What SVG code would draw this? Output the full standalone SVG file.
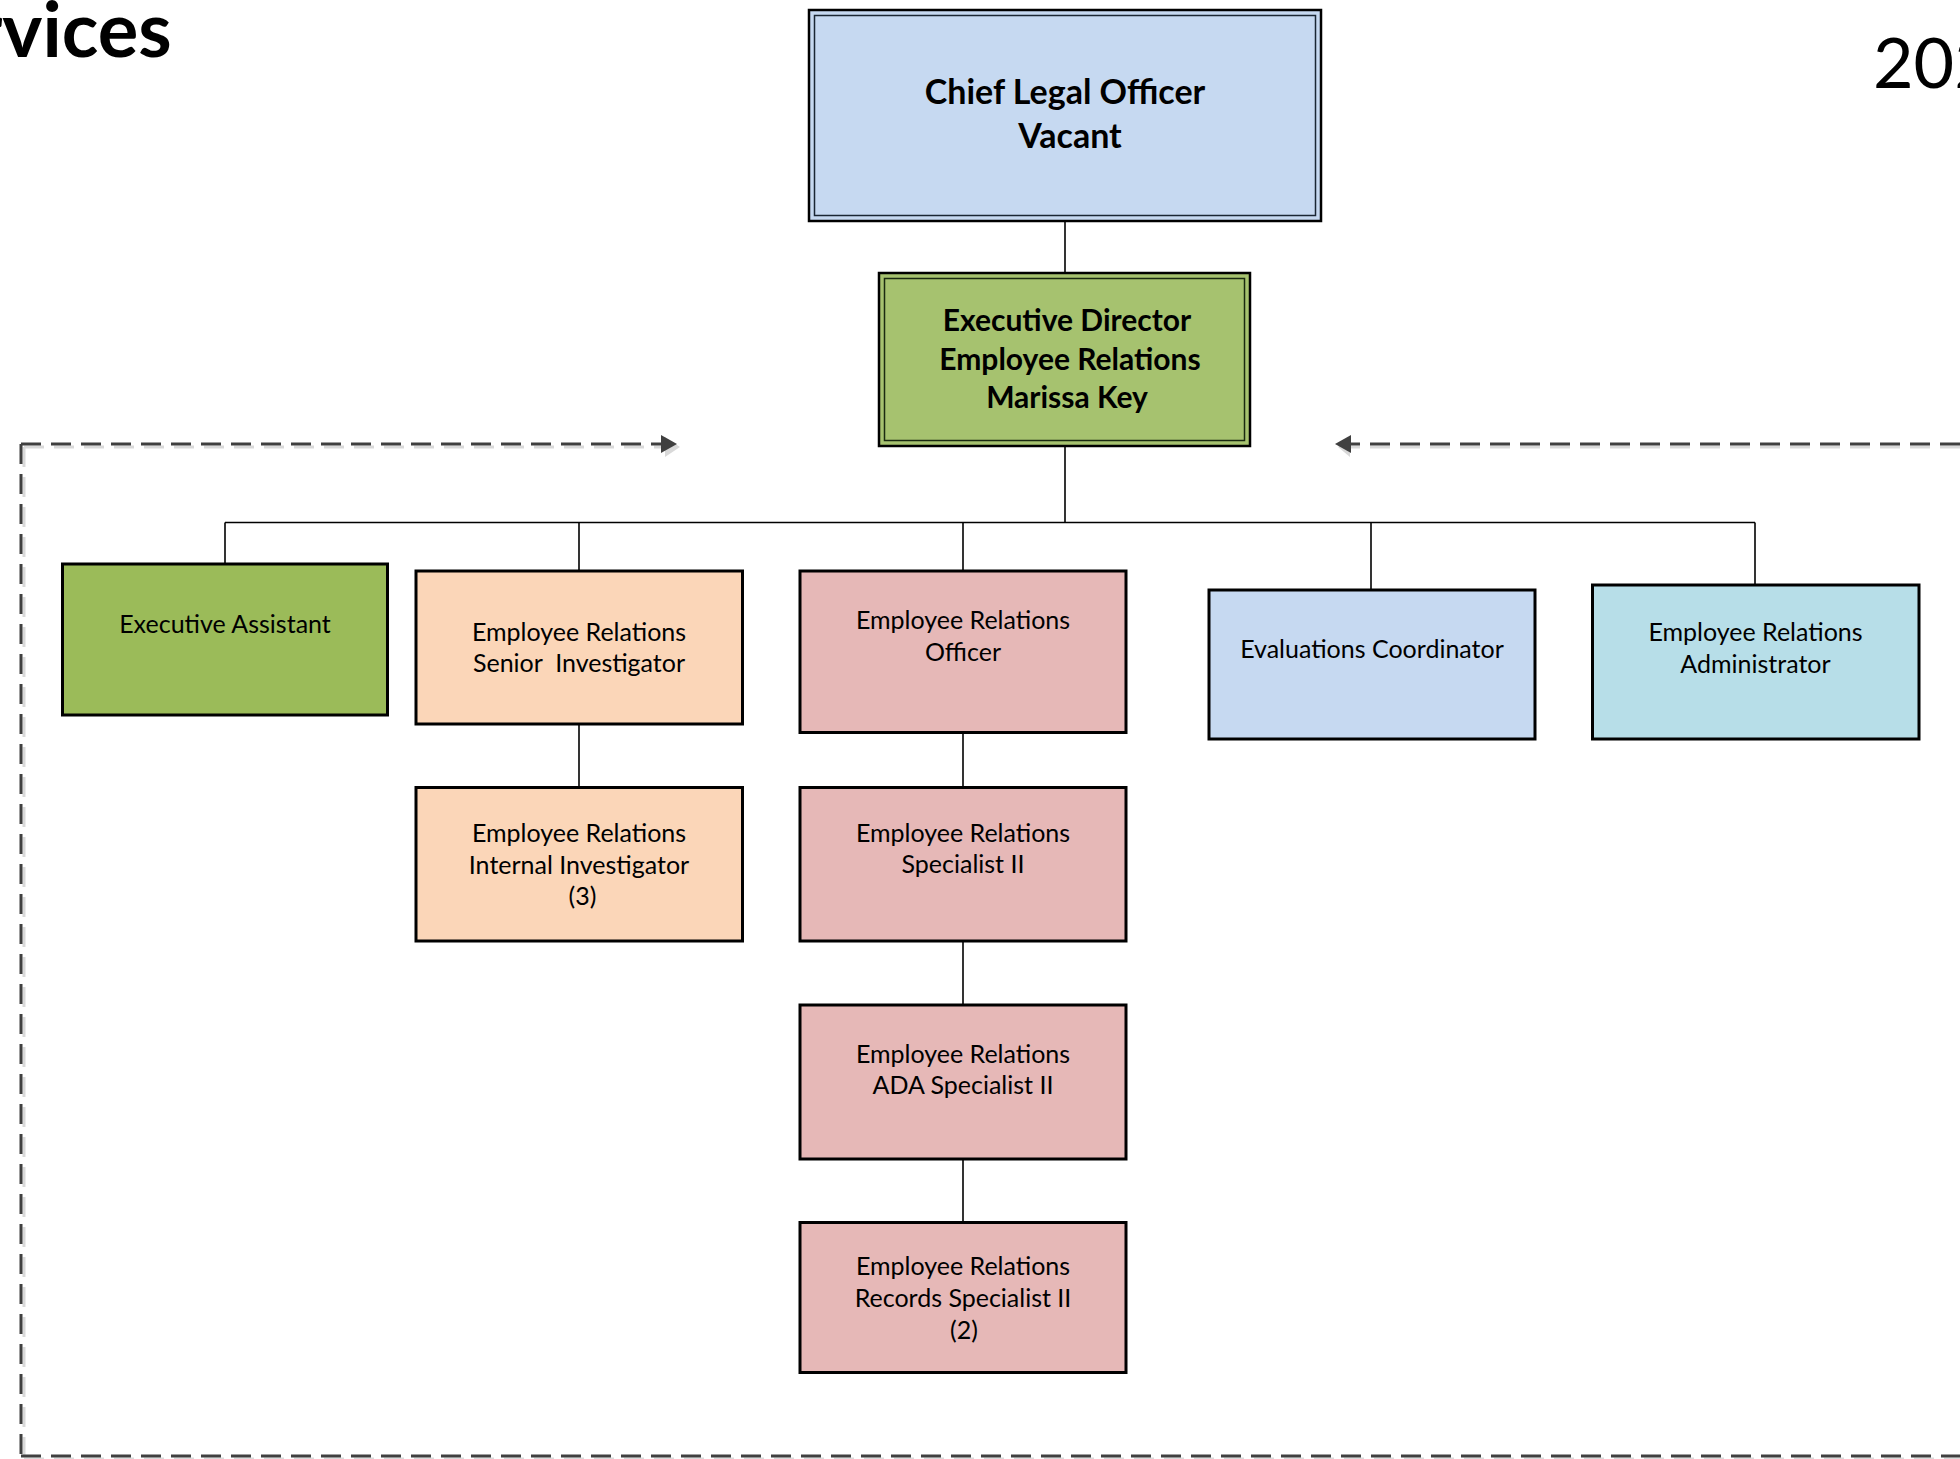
<svg xmlns="http://www.w3.org/2000/svg" width="1960" height="1459" viewBox="0 0 1960 1459">
<style>
  .t { font-family: Lato, "Liberation Sans", sans-serif; font-size: 25px; fill: #000; text-anchor: middle; }
  .tb { font-family: Lato, "Liberation Sans", sans-serif; font-weight: bold; fill: #000; text-anchor: middle; }
  .box { stroke: #000; stroke-width: 3; }
  .conn { stroke: #000; stroke-width: 1.6; fill: none; }
  .dash { stroke: #404040; stroke-width: 3; fill: none; stroke-dasharray: 20 10; }
  .dshadow { stroke: #d9d9d9; stroke-width: 3; fill: none; stroke-dasharray: 20 10; }
  .pink { fill: #E6B8B7; }
  .peach { fill: #FBD6B8; }
  .blue { fill: #C6D9F1; }
  .teal { fill: #B7DEE8; }
  .green { fill: #9BBB59; }
</style>
<rect width="1960" height="1459" fill="#fff"/>

<!-- Title fragments -->
<text x="-26" y="57" font-family="Lato, 'Liberation Sans', sans-serif" font-weight="bold" font-size="76">rvices</text>
<text x="1873" y="88" font-family="Lato, 'Liberation Sans', sans-serif" font-size="70">202</text>

<!-- Dashed boundary -->
<g id="boundary">
  <path class="dshadow" d="M24 447 H663 M1960 447 H1350 M24 447 V1459 M24 1459 H1960"/>
  <polygon points="665,437 680,447 665,457" fill="#d9d9d9"/>
  <polygon points="1350,437 1338,447 1350,457" fill="#d9d9d9"/>
  <path class="dash" d="M21 444 H661 M1960 444 H1350 M21 444 V1456 M21 1456 H1960"/>
  <polygon points="661,435 677,444 661,453" fill="#404040"/>
  <polygon points="1351,435 1335,444 1351,453" fill="#404040"/>
</g>

<!-- Connectors -->
<g id="connectors">
  <path class="conn" d="M1065 221 V272"/>
  <path class="conn" d="M1065 446 V522.5"/>
  <path class="conn" d="M225 522.5 H1755"/>
  <path class="conn" d="M225 522.5 V564"/>
  <path class="conn" d="M579 522.5 V571"/>
  <path class="conn" d="M963 522.5 V571"/>
  <path class="conn" d="M1371 522.5 V590"/>
  <path class="conn" d="M1755 522.5 V585"/>
  <path class="conn" d="M579 724 V787.5"/>
  <path class="conn" d="M963 732.5 V787.5"/>
  <path class="conn" d="M963 941 V1005"/>
  <path class="conn" d="M963 1159 V1222.5"/>
</g>

<!-- Nodes -->
<g id="chief-legal-officer">
  <rect x="809" y="10" width="512" height="211" fill="#C6D9F1" stroke="#000" stroke-width="2.5"/>
  <rect x="814.5" y="15.5" width="501" height="200" fill="none" stroke="#1a2633" stroke-width="1.5"/>
  <text class="tb" x="1065" y="104" font-size="34">Chief Legal Officer</text>
  <text class="tb" x="1070" y="148" font-size="34">Vacant</text>
</g>

<g id="executive-director">
  <rect x="879" y="273" width="371" height="173" fill="#A6C26F" stroke="#000" stroke-width="2.5"/>
  <rect x="884.5" y="278.5" width="360" height="162" fill="none" stroke="#1a2a10" stroke-width="1.5"/>
  <text class="tb" x="1067" y="331" font-size="30">Executive Director</text>
  <text class="tb" x="1070" y="370" font-size="30">Employee Relations</text>
  <text class="tb" x="1067" y="408" font-size="30">Marissa Key</text>
</g>

<g id="executive-assistant">
  <rect class="box green" x="62.5" y="564" width="325" height="151"/>
  <text class="t" x="225" y="633">Executive Assistant</text>
</g>

<g id="er-senior-investigator">
  <rect class="box peach" x="416" y="571" width="326.5" height="153"/>
  <text class="t" x="579" y="641">Employee Relations</text>
  <text class="t" x="579" y="672" style="white-space:pre">Senior  Investigator</text>
</g>

<g id="er-internal-investigator">
  <rect class="box peach" x="416" y="787.5" width="326.5" height="153.5"/>
  <text class="t" x="579" y="842">Employee Relations</text>
  <text class="t" x="579" y="874">Internal Investigator</text>
  <text class="t" x="582.5" y="905">(3)</text>
</g>

<g id="er-officer">
  <rect class="box pink" x="800" y="571" width="326" height="161.5"/>
  <text class="t" x="963" y="629">Employee Relations</text>
  <text class="t" x="963" y="660.5">Officer</text>
</g>

<g id="er-specialist-ii">
  <rect class="box pink" x="800" y="787.5" width="326" height="153.5"/>
  <text class="t" x="963" y="842">Employee Relations</text>
  <text class="t" x="963" y="873">Specialist II</text>
</g>

<g id="er-ada-specialist-ii">
  <rect class="box pink" x="800" y="1005" width="326" height="154"/>
  <text class="t" x="963" y="1063">Employee Relations</text>
  <text class="t" x="963" y="1094">ADA Specialist II</text>
</g>

<g id="er-records-specialist-ii">
  <rect class="box pink" x="800" y="1222.5" width="326" height="150"/>
  <text class="t" x="963" y="1275">Employee Relations</text>
  <text class="t" x="963" y="1307">Records Specialist II</text>
  <text class="t" x="964" y="1339">(2)</text>
</g>

<g id="evaluations-coordinator">
  <rect class="box blue" x="1209" y="590" width="326" height="149"/>
  <text class="t" x="1372" y="658">Evaluations Coordinator</text>
</g>

<g id="er-administrator">
  <rect class="box teal" x="1592.5" y="585" width="326.5" height="154"/>
  <text class="t" x="1755.5" y="640.5">Employee Relations</text>
  <text class="t" x="1755.5" y="673">Administrator</text>
</g>
</svg>
